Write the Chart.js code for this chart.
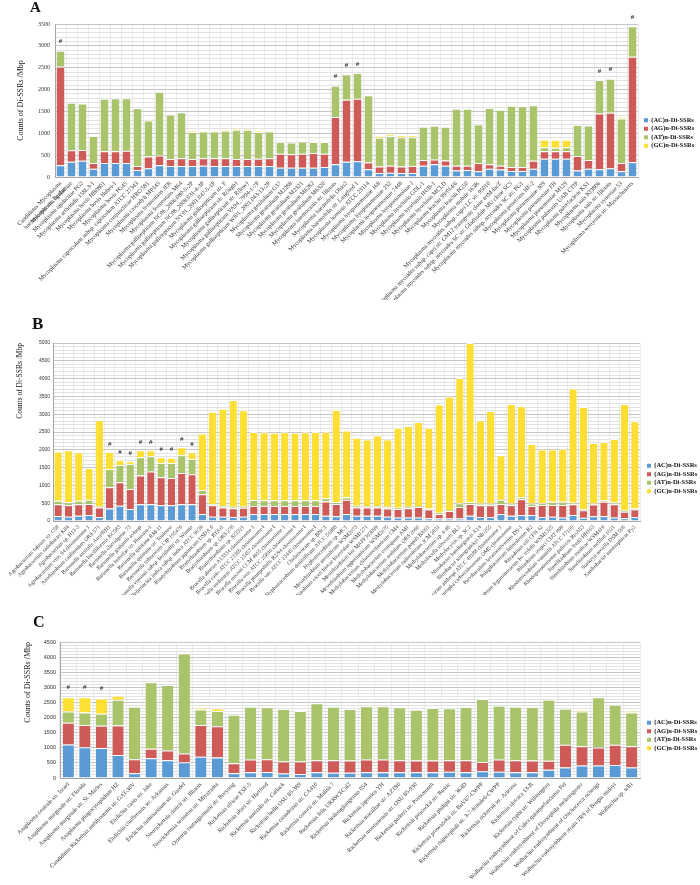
<!DOCTYPE html>
<html>
<head>
<meta charset="utf-8">
<script src="https://cdn.jsdelivr.net/npm/chart.js"></script>
<style>
body{margin:0;background:#fff;width:700px;height:885px;position:relative;overflow:hidden;}
canvas{position:absolute;left:0;}
.tag{position:absolute;font:bold 16px "Liberation Serif",serif;line-height:1;color:#111;z-index:2;}
</style>
</head>
<body>
<canvas id="chartA" width="700" height="300" style="top:0px"></canvas>
<canvas id="chartB" width="700" height="295" style="top:300px"></canvas>
<canvas id="chartC" width="700" height="290" style="top:595px"></canvas>
<div class="tag" style="left:30px;top:0px;font-size:15px">A</div>
<div class="tag" style="left:32px;top:315px;font-size:17px">B</div>
<div class="tag" style="left:33px;top:614px">C</div>
<script>
// series shared by the three panels
const seriesNames = ['(AC)n-Di-SSRs', '(AG)n-Di-SSRs', '(AT)n-Di-SSRs', '(GC)n-Di-SSRs'];
const seriesColors = ['#5b9bd5', '#cf5b59', '#a9c46b', '#ffdf33'];

// panel A - Mycoplasma
const labelsA = [
  ['Candidatus Mycoplasma', 'haemolamae str. Purdue'], 'Mycoplasma agalactiae', 'Mycoplasma agalactiae PG2',
  'Mycoplasma arthritidis 158L3-1', 'Mycoplasma bovis HB0801', 'Mycoplasma bovis Hubei-1', 'Mycoplasma bovis PG45',
  'Mycoplasma capricolum subsp. capricolum ATCC 27343', 'Mycoplasma conjunctivae HRC/581', 'Mycoplasma crocodyli MP145',
  'Mycoplasma fermentans JER', 'Mycoplasma fermentans M64', 'Mycoplasma gallisepticum NC06_2006.080-5-2P',
  'Mycoplasma gallisepticum NC08_2008.031-4-3P', 'Mycoplasma gallisepticum NY01_2001.047-5-1P', 'Mycoplasma gallisepticum str. F',
  'Mycoplasma gallisepticum str. R(high)', 'Mycoplasma gallisepticum str. R(low)', 'Mycoplasma gallisepticum VA94_7994-1-7P',
  'Mycoplasma gallisepticum WI01_2001.043-13-2P', 'Mycoplasma genitalium G37', 'Mycoplasma genitalium M2288',
  'Mycoplasma genitalium M2321', 'Mycoplasma genitalium M6282', 'Mycoplasma genitalium M6320', 'Mycoplasma haemocanis str. Illinois',
  'Mycoplasma haemofelis Ohio2', 'Mycoplasma haemofelis str. Langford 1', 'Mycoplasma hominis ATCC 23114',
  'Mycoplasma hyopneumoniae 168', 'Mycoplasma hyopneumoniae 232', 'Mycoplasma hyopneumoniae 7448', 'Mycoplasma hyopneumoniae J',
  'Mycoplasma hyorhinis GDL-1', 'Mycoplasma hyorhinis HUB-1', 'Mycoplasma hyorhinis MCLD', 'Mycoplasma leachii 99/014/6',
  'Mycoplasma leachii PG50', 'Mycoplasma mobile 163K', 'Mycoplasma mycoides subsp. capri LC str. 95010',
  'Mycoplasma mycoides subsp. capri str. GM12 transgenic clone tetM-lacZ', 'Mycoplasma mycoides subsp. mycoides SC str. Gladysdale MU clone SC5',
  'Mycoplasma mycoides subsp. mycoides SC str. PG1', 'Mycoplasma penetrans HF-2', 'Mycoplasma pneumoniae 309',
  'Mycoplasma pneumoniae FH', 'Mycoplasma pneumoniae M129', 'Mycoplasma pulmonis UAB CTIP', 'Mycoplasma putrefaciens KS1',
  'Mycoplasma suis KI3806', 'Mycoplasma suis str. Illinois', 'Mycoplasma synoviae 53', 'Mycoplasma wenyonii str. Massachusetts'
];
const acA = [270,350,370,190,320,320,320,160,200,270,250,250,250,260,250,250,250,250,250,250,210,210,210,210,230,290,350,360,180,90,100,90,90,260,290,260,150,160,130,190,170,140,140,190,420,420,420,150,190,180,200,130,340];
const agA = [2250,260,250,130,270,270,280,90,270,220,160,180,160,170,180,180,160,160,170,180,320,310,320,340,300,1080,1420,1430,150,150,160,150,160,130,110,120,110,100,190,100,90,90,90,180,170,170,170,330,200,1270,1270,190,2410];
const atA = [370,1090,1060,620,1200,1210,1200,1320,820,1460,1020,1050,620,610,610,630,670,670,610,610,270,270,280,250,270,720,580,590,1540,660,670,670,660,760,770,770,1300,1300,880,1290,1280,1400,1390,1270,90,80,90,710,790,770,780,1020,700];
const gcA = [0,0,0,0,0,0,0,0,20,0,0,0,20,10,20,20,20,20,20,20,0,0,0,0,0,0,0,0,0,40,50,40,40,0,0,0,0,0,0,0,0,0,0,0,170,180,170,0,0,0,0,30,0];
const markA = [0,25,26,27,49,50,52];

// panel B - Rhizobiales
const labelsB = [
  'Agrobacterium fabrum str. C58', 'Agrobacterium radiobacter K84', 'Agrobacterium sp. H13-3', 'Agrobacterium vitis S4 chromosome 1',
  'Azorhizobium caulinodans ORS 571', 'Bartonella australis Aust/NH1', 'Bartonella bacilliformis KC583', 'Bartonella clarridgeiae 73',
  'Bartonella grahamii as4aup', 'Bartonella henselae str. Houston-1', 'Bartonella quintana RM-11', 'Bartonella quintana str. Toulouse',
  'Bartonella tribocorum CIP 105476', 'Bartonella vinsonii subsp. berkhoffii str. Winnie', 'Beijerinckia indica subsp. indica ATCC 9039',
  'Bradyrhizobium japonicum USDA 6', 'Bradyrhizobium sp. BTAi1', 'Bradyrhizobium sp. ORS 278', 'Bradyrhizobium sp. S23321',
  'Brucella abortus A13334 chromosome 1', 'Brucella canis ATCC 23365 chromosome I', 'Brucella melitensis ATCC 23457 chromosome I',
  'Brucella microti CCM 4915 chromosome 1', 'Brucella ovis ATCC 25840 chromosome I', 'Brucella pinnipedialis B2/94 chromosome I',
  'Brucella suis ATCC 23445 chromosome I', 'Chelativorans sp. BNC1', 'Hyphomicrobium denitrificans ATCC 51888', 'Hyphomicrobium sp. MC1',
  'Mesorhizobium australicum WSM2073', 'Mesorhizobium ciceri biovar biserrulae WSM1271', 'Mesorhizobium loti MAFF303099',
  'Mesorhizobium opportunistum WSM2075', 'Methylobacterium chloromethanicum CM4', 'Methylobacterium extorquens AM1',
  'Methylobacterium nodulans ORS 2060', 'Methylobacterium populi BJ001', 'Methylobacterium radiotolerans JCM 2831',
  'Methylobacterium sp. 4-46', 'Methylocella silvestris BL2', 'Methylocystis sp. SC2', 'Nitrobacter hamburgensis X14',
  'Nitrobacter winogradskyi Nb-255', 'Ochrobactrum anthropi ATCC 49188 chromosome 1', 'Oligotropha carboxidovorans OM5 chromosome',
  'Parvibaculum lavamentivorans DS-1', 'Pelagibacterium halotolerans B2', 'Rhizobium etli CFN 42',
  'Rhizobium leguminosarum bv. trifolii WSM1325', 'Rhizobium tropici CIAT 899', 'Rhodomicrobium vannielii ATCC 17100',
  'Rhodopseudomonas palustris BisA53', 'Sinorhizobium fredii HH103', 'Sinorhizobium medicae WSM419', 'Sinorhizobium meliloti 1021',
  'Starkeya novella DSM 506', 'Xanthobacter autotrophicus Py2'
];
const acB = [140,120,150,170,110,350,430,340,470,470,440,440,470,470,200,120,120,110,120,200,200,200,200,200,200,200,150,130,200,150,150,150,120,100,100,100,80,70,70,70,150,110,110,200,150,170,170,110,120,100,170,90,130,130,100,80,110];
const agB = [330,320,320,310,270,600,660,560,810,920,790,770,880,840,550,320,260,250,250,220,220,220,220,220,220,220,400,350,400,230,230,230,230,240,260,290,240,130,210,320,330,330,330,280,290,440,250,340,330,350,300,210,330,410,370,180,210];
const atB = [100,90,100,120,30,510,480,700,510,430,400,420,500,430,120,30,40,40,40,170,160,160,160,160,160,160,90,50,70,50,40,40,50,30,40,30,30,30,30,110,50,50,50,120,50,60,70,50,90,90,40,30,30,40,50,40,30];
const gcB = [1380,1460,1360,890,2420,480,140,80,200,170,160,150,220,190,1590,2600,2730,3000,2700,1910,1910,1900,1910,1900,1910,1920,1870,2590,1870,1910,1870,1980,1890,2250,2270,2360,2270,3040,3190,3520,4470,2330,2600,1250,2800,2550,1670,1510,1470,1490,3210,2870,1700,1640,1780,2990,2450];
const markB = [5,6,7,8,9,10,11,12,13];

// panel C - Rickettsiales
const labelsC = [
  'Anaplasma centrale str. Israel', 'Anaplasma marginale str. Florida', 'Anaplasma marginale str. St. Maries',
  'Anaplasma phagocytophilum HZ', 'Candidatus Rickettsia amblyommii str. GAT-30V', 'Ehrlichia canis str. Jake',
  'Ehrlichia chaffeensis str. Arkansas', 'Ehrlichia ruminantium str. Gardel', 'Neorickettsia risticii str. Illinois',
  'Neorickettsia sennetsu str. Miyayama', 'Orientia tsutsugamushi str. Boryong', 'Rickettsia africae ESF-5',
  'Rickettsia akari str. Hartford', 'Rickettsia australis str. Cutlack', 'Rickettsia bellii OSU 85-389',
  'Rickettsia canadensis str. CA410', 'Rickettsia conorii str. Malish 7', 'Rickettsia felis URRWXCal2',
  'Rickettsia heilongjiangensis 054', 'Rickettsia japonica YH', 'Rickettsia massiliae str. AZT80',
  'Rickettsia montanensis str. OSU 85-930', 'Rickettsia parkeri str. Portsmouth', 'Rickettsia peacockii str. Rustic',
  'Rickettsia philipii str. 364D', 'Rickettsia prowazekii str. BuV67-CWPP', 'Rickettsia rhipicephali str. 3-7-female6-CWPP',
  'Rickettsia rickettsii str. Arizona', 'Rickettsia slovaca 13-B', 'Rickettsia typhi str. Wilmington',
  'Wolbachia endosymbiont of Culex quinquefasciatus Pel', 'Wolbachia endosymbiont of Drosophila melanogaster',
  'Wolbachia endosymbiont of Onchocerca ochengi', 'Wolbachia endosymbiont strain TRS of Brugia malayi', 'Wolbachia sp. wRi'
];
const acC = [1110,1020,990,760,160,650,590,520,700,680,160,190,200,150,130,190,170,170,190,190,190,190,190,210,190,220,210,190,190,270,350,410,410,430,350];
const agC = [720,730,740,980,460,320,320,290,1050,1030,330,420,420,400,420,400,420,410,420,420,400,390,390,380,400,310,400,400,390,300,750,640,600,670,700];
const atC = [370,420,400,850,1740,2200,2170,3310,520,510,1600,1750,1720,1730,1670,1880,1770,1700,1760,1760,1750,1680,1740,1720,1760,2080,1780,1770,1770,2020,1190,1150,1660,1320,1120];
const gcC = [470,500,500,130,0,0,0,0,60,80,0,0,0,0,0,0,0,0,0,0,0,0,0,0,0,0,0,0,0,0,0,50,0,0,50];
const markC = [0,1,2];

// draws the "#" above flagged stacks
const hashMarks = {
  id: 'hashMarks',
  afterDatasetsDraw(chart, args, opts){
    const ctx = chart.ctx;
    const xs = chart.scales.x, ys = chart.scales.y;
    ctx.save();
    ctx.font = 'bold 7px "Liberation Serif"';
    ctx.fillStyle = '#333';
    ctx.textAlign = 'center';
    ctx.textBaseline = 'middle';
    for(let i of opts.marks){
      let total = 0;
      chart.data.datasets.forEach(ds => total += ds.data[i]);
      ctx.fillText('#', xs.getPixelForValue(i), ys.getPixelForValue(total) - opts.gap);
    }
    ctx.restore();
  }
};

// moves the legend block to where Excel put it
const legendPlace = {
  id: 'legendPlace',
  afterLayout(chart, args, opts){
    const lg = chart.legend;
    if(!lg) return;
    const dx = opts.x - lg.left, dy = opts.y - lg.top;
    lg.left += dx; lg.right += dx;
    lg.top += dy; lg.bottom += dy;
  }
};

let makePanel = function(id, labels, series, o){
  let datasets = series.map((data, k) => ({
    label: seriesNames[k],
    data: data,
    backgroundColor: seriesColors[k],
    borderColor: 'rgba(255,255,255,0.8)',
    borderWidth: {top: 1, left: 0, right: 0, bottom: 0},
    categoryPercentage: 1,
    barPercentage: o.barPct
  }));

  return new Chart(document.getElementById(id), {
    type: 'bar',
    data: {labels: labels, datasets: datasets},
    plugins: [hashMarks, legendPlace],
    options: {
      responsive: false,
      animation: false,
      devicePixelRatio: 1,
      layout: {padding: {top: o.top, left: 0, right: 0, bottom: 0}},
      scales: {
        x: {
          stacked: true,
          grid: {color: '#ececec', offset: true, drawTicks: false},
          border: {color: '#a6a6a6'},
          ticks: {
            autoSkip: false, minRotation: 45, maxRotation: 45, padding: 3, color: '#333',
            font: {family: 'Liberation Serif', size: o.xFont}
          },
          afterFit: s => { s.height = o.xHeight; s.paddingLeft = 0; s.paddingRight = 0; }
        },
        y: {
          stacked: true,
          min: 0,
          max: o.max,
          grid: {
            drawTicks: false,
            color: c => (c.tick && c.tick.value % 500 === 0) ? '#c6c6c6' : '#e2e2e2'
          },
          border: {color: '#a6a6a6'},
          ticks: {
            autoSkip: false,
            stepSize: 100,
            padding: o.tickPad,
            color: '#333',
            font: {family: o.yFamily, size: o.yFont},
            callback: v => v % 500 === 0 ? v : ''
          },
          title: {
            display: true,
            text: 'Counts of Di-SSRs /Mbp',
            align: o.titleAlign,
            color: '#222',
            font: {family: 'Liberation Serif', size: o.titleFont},
            padding: {top: o.titlePad, bottom: 0}
          },
          afterFit: s => { s.width = o.left; s.paddingTop = 0; s.paddingBottom = 0; }
        }
      },
      plugins: {
        tooltip: {enabled: false},
        legend: {
          position: 'right',
          align: 'start',
          maxWidth: o.legW,
          labels: {
            boxWidth: 4, boxHeight: 4, padding: 2, color: '#111',
            font: {family: 'Liberation Serif', size: 6.5, weight: 'bold'},
            generateLabels: chart => Chart.defaults.plugins.legend.labels.generateLabels(chart).map(l => Object.assign(l, {lineWidth: 0}))
          }
        },
        legendPlace: {x: o.legX, y: o.legY},
        hashMarks: {marks: o.marks, gap: o.gap}
      }
    }
  });
};

makePanel('chartA', labelsA, [acA, agA, atA, gcA], {
  top: 24, left: 55, xHeight: 123, max: 3500, barPct: 0.72, xFont: 6,
  yFamily: 'Liberation Serif', yFont: 6, tickPad: 5, titleFont: 8, titlePad: 16, titleAlign: 'center',
  legW: 62, legX: 642, legY: 115, marks: markA, gap: 9
});

makePanel('chartB', labelsB, [acB, agB, atB, gcB], {
  top: 43, left: 53, xHeight: 74, max: 5000, barPct: 0.71, xFont: 5.5,
  yFamily: 'Liberation Sans', yFont: 5, tickPad: 3, titleFont: 7.5, titlePad: 16, titleAlign: 'end',
  legW: 60, legX: 645, legY: 160.5, marks: markB, gap: 8
});

makePanel('chartC', labelsC, [acC, agC, atC, gcC], {
  top: 47, left: 60, xHeight: 107, max: 4500, barPct: 0.68, xFont: 6,
  yFamily: 'Liberation Sans', yFont: 5.5, tickPad: 4, titleFont: 8, titlePad: 23, titleAlign: 'end',
  legW: 60, legX: 645, legY: 122.5, marks: markC, gap: 10
});
</script>
</body>
</html>
